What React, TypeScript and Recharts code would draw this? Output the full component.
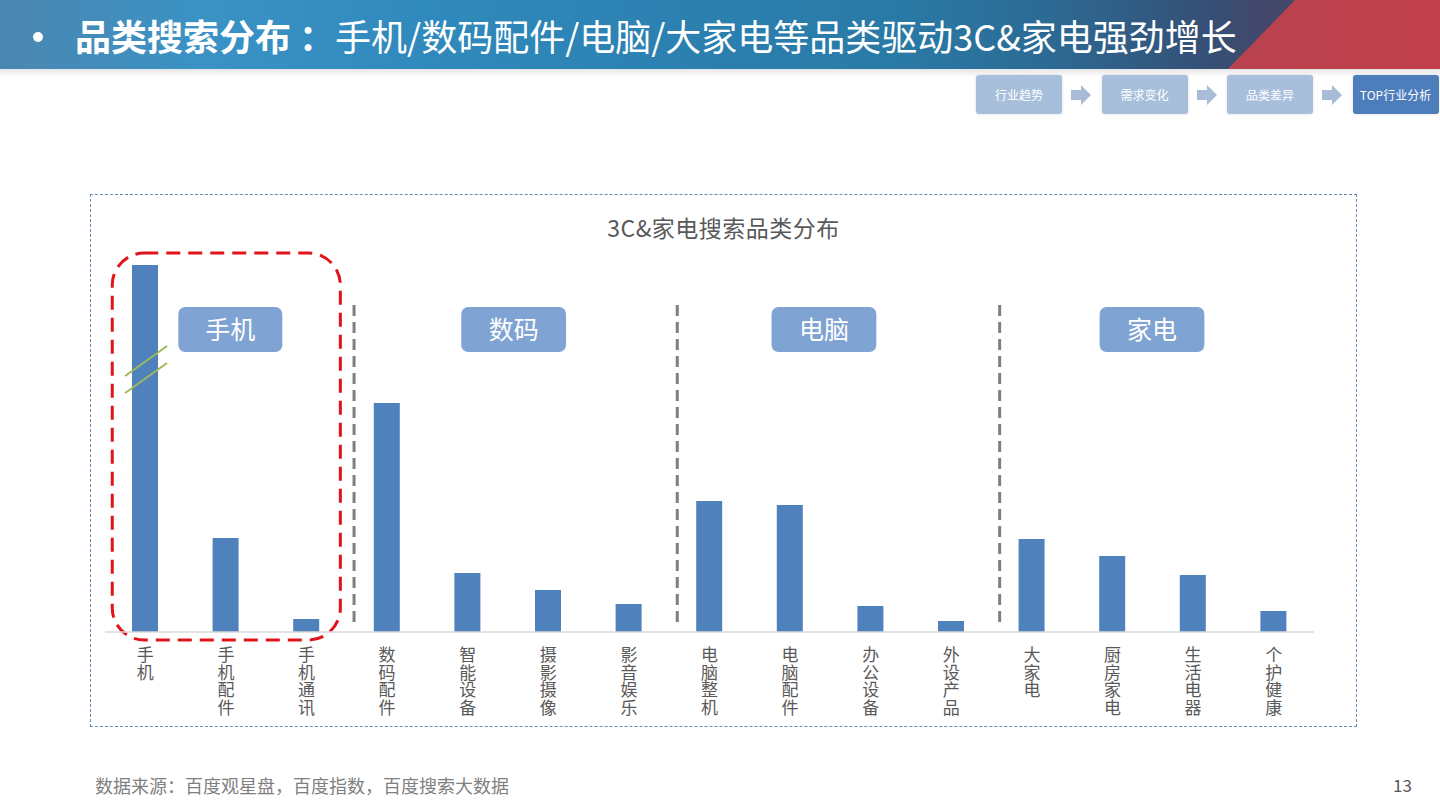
import React from 'react';
import {
  Bar,
  BarChart,
  ReferenceArea,
  ReferenceLine,
  XAxis,
  YAxis,
} from 'recharts';

const categories = [
  '手机', '手机配件', '手机通讯', '数码配件', '智能设备', '摄影摄像', '影音娱乐',
  '电脑整机', '电脑配件', '办公设备', '外设产品', '大家电', '厨房家电', '生活电器', '个护健康',
];
const searchValues = [367, 94, 13, 229, 59, 42, 28, 131, 127, 26, 11, 93, 76, 57, 21];
const groupNames = ['手机', '数码', '电脑', '家电'];
const steps = ['行业趋势', '需求变化', '品类差异', 'TOP行业分析'];

// annotation placement, in axis units (x = category index, y = value)
const groupBoxes = [
  [0.41, 1.7],
  [3.92, 5.22],
  [7.77, 9.07],
  [11.84, 13.14],
];
const dividerX = [2.59, 6.6, 10.6];

const FONT = '"Noto Sans CJK SC", "Noto Sans", sans-serif';

const chartData = categories.map((name, i) => ({ idx: i, name, value: searchValues[i] }));

// category names are written top-to-bottom under each bar
const VerticalTick = (props: any) => {
  const { x, y, payload } = props;
  const label = categories[payload.value] ?? '';
  return (
    <text
      x={x}
      y={y + 14}
      fill="#595959"
      fontSize={17}
      style={{ writingMode: 'vertical-rl', letterSpacing: 0.6 }}
    >
      {label}
    </text>
  );
};

const GroupBox = (name: string) => (props: any) => {
  const { x, y, width, height } = props;
  return (
    <g>
      <rect x={x} y={y} width={width} height={height} rx={7} fill="#7fa3d2" />
      <text
        x={x + width / 2}
        y={y + height / 2 + 9}
        textAnchor="middle"
        fill="#fff"
        fontSize={25}
      >
        {name}
      </text>
    </g>
  );
};

const RedFrame = (props: any) => {
  const { x, y, width, height } = props;
  return (
    <rect
      x={x}
      y={y}
      width={width}
      height={height}
      rx={32}
      fill="none"
      stroke="#e0141a"
      strokeWidth={3}
      strokeDasharray="14 8"
    />
  );
};

function Header() {
  return (
    <>
      <div
        style={{
          position: 'absolute',
          left: 0,
          top: 0,
          width: 1440,
          height: 69,
          background:
            'linear-gradient(90deg, #4b87b1 0%, #3a92c5 14%, #3089bc 30%, #2b80b0 48%, #2a7aa6 62%, #2b6c96 72%, #364f75 84%, #43476a 88%)',
        }}
      />
      <div
        style={{
          position: 'absolute',
          left: 0,
          top: 0,
          width: 1440,
          height: 69,
          background: 'linear-gradient(90deg, #8c4e6a, #c1404b)',
          clipPath: 'polygon(1295px 0, 1440px 0, 1440px 69px, 1228px 69px)',
        }}
      />
      <div
        style={{
          position: 'absolute',
          left: 0,
          top: 69,
          width: 1440,
          height: 8,
          background: 'linear-gradient(180deg, #e6e6e6, #ffffff)',
        }}
      />
      <div
        style={{
          position: 'absolute',
          left: 33,
          top: 32,
          width: 10,
          height: 10,
          borderRadius: 5,
          background: '#fff',
        }}
      />
      <div
        style={{
          position: 'absolute',
          left: 75,
          top: 11,
          color: '#fff',
          fontSize: 36,
          lineHeight: '48px',
          whiteSpace: 'nowrap',
        }}
      >
        <span style={{ fontWeight: 700 }}>品类搜索分布</span>
        <span style={{ fontWeight: 700, marginLeft: 8 }}>：</span>
        <span>手机/数码配件/电脑/大家电等品类驱动3C&amp;家电强劲增长</span>
      </div>
      {steps.map((s, i) => (
        <React.Fragment key={s}>
          <div
            style={{
              position: 'absolute',
              left: 976 + i * 125.5,
              top: 75,
              width: 86,
              height: 39,
              borderRadius: 3,
              background: i === 3 ? '#4e7dbc' : '#a8bfdc',
              color: '#fff',
              fontSize: 12,
              lineHeight: '39px',
              textAlign: 'center',
              boxShadow: '0 0 3px rgba(0,0,0,0.15)',
            }}
          >
            {s}
          </div>
          {i < 3 && (
            <svg
              style={{ position: 'absolute', left: 1071 + i * 125.5, top: 85 }}
              width={20}
              height={20}
            >
              <polygon points="0,5 10,5 10,0 20,10 10,20 10,15 0,15" fill="#a8bcd8" />
            </svg>
          )}
        </React.Fragment>
      ))}
    </>
  );
}

export default function App() {
  return (
    <div
      style={{
        position: 'absolute',
        left: 0,
        top: 0,
        width: 1440,
        height: 810,
        background: '#fff',
        fontFamily: FONT,
        overflow: 'hidden',
      }}
    >
      <Header />

      <div
        style={{
          position: 'absolute',
          left: 90,
          top: 194,
          width: 1267,
          height: 533,
          boxSizing: 'border-box',
          border: '1px dashed #6a8bb0',
        }}
      />
      <div
        style={{
          position: 'absolute',
          left: 90,
          top: 211,
          width: 1267,
          textAlign: 'center',
          fontSize: 23,
          letterSpacing: 0.5,
          color: '#595959',
          lineHeight: '32px',
        }}
      >
        3C&amp;家电搜索品类分布
      </div>

      <div style={{ position: 'absolute', left: 90, top: 194 }}>
        <BarChart
          width={1267}
          height={533}
          data={chartData}
          margin={{ top: 38, right: 43, left: 15, bottom: 0 }}
        >
          <XAxis
            dataKey="idx"
            type="number"
            domain={[-0.5, 14.5]}
            ticks={categories.map((_, i) => i)}
            interval={0}
            height={95}
            tickSize={0}
            tickMargin={0}
            tickLine={false}
            axisLine={{ stroke: '#d9d9d9', strokeWidth: 1.5 }}
            tick={<VerticalTick />}
          />
          <YAxis hide domain={[0, 400]} allowDataOverflow />
          <Bar dataKey="value" fill="#4f81bd" barSize={26} isAnimationActive={false} />
          {dividerX.map((x) => (
            <ReferenceLine
              key={x}
              segment={[
                { x, y: 327 },
                { x, y: 5 },
              ]}
              stroke="#7f7f7f"
              strokeWidth={3}
              strokeDasharray="11 6"
              ifOverflow="visible"
            />
          ))}
          {groupBoxes.map(([x1, x2], i) => (
            <ReferenceArea
              key={groupNames[i]}
              x1={x1}
              x2={x2}
              y1={280}
              y2={325}
              ifOverflow="visible"
              shape={GroupBox(groupNames[i])}
            />
          ))}
          <ReferenceArea
            x1={-0.41}
            x2={2.42}
            y1={-8}
            y2={379}
            ifOverflow="visible"
            shape={RedFrame}
          />
          <ReferenceLine
            segment={[
              { x: -0.25, y: 256 },
              { x: 0.27, y: 286 },
            ]}
            stroke="#9bbb59"
            strokeWidth={2}
            ifOverflow="visible"
          />
          <ReferenceLine
            segment={[
              { x: -0.25, y: 239 },
              { x: 0.27, y: 269 },
            ]}
            stroke="#9bbb59"
            strokeWidth={2}
            ifOverflow="visible"
          />
        </BarChart>
      </div>

      <div
        style={{
          position: 'absolute',
          left: 95,
          top: 772,
          fontSize: 18,
          color: '#7f7f7f',
          lineHeight: '26px',
        }}
      >
        数据来源：百度观星盘，百度指数，百度搜索大数据
      </div>
      <div
        style={{
          position: 'absolute',
          left: 1393,
          top: 772,
          fontSize: 17,
          color: '#595959',
          lineHeight: '26px',
        }}
      >
        13
      </div>
    </div>
  );
}
